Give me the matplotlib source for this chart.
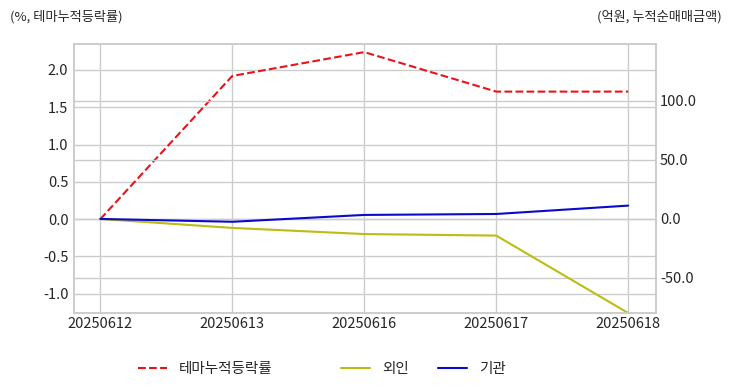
import matplotlib
matplotlib.use("Agg")
import matplotlib.pyplot as plt
import seaborn as sns

# data
dates = ["20250612", "20250613", "20250616", "20250617", "20250618"]
theme_rate = [0.0, 1.92, 2.24, 1.71, 1.71]      # %, 테마누적등락률
foreign = [0.0, -7.6, -12.8, -14.1, -79.7]      # 억원, 외인
institution = [0.0, -2.4, 3.4, 4.2, 11.3]       # 억원, 기관

sns.set_style("whitegrid")
plt.rcParams["font.family"] = ["Noto Sans CJK KR", "DejaVu Sans"]
plt.rcParams["axes.unicode_minus"] = False

fig = plt.figure(figsize=(7.32, 3.92), dpi=100)
ax = fig.add_axes([0.101, 0.2015, 0.795, 0.6865])
ax2 = ax.twinx()

x = list(range(len(dates)))
l1, = ax.plot(x, theme_rate, color="#e8141a", linestyle="--", linewidth=1.5, label="테마누적등락률")
l2, = ax2.plot(x, foreign, color="#bcbc14", linewidth=1.5, label="외인")
l3, = ax2.plot(x, institution, color="#0a0acd", linewidth=1.5, label="기관")

ax.set_xticks(x)
ax.set_xticklabels(dates)
ax.set_xlim(-0.2, 4.21)

# align zeros of both axes
ax.set_ylim(-1.26, 2.35)
ax2.set_ylim(-79.7, 148.3)
ax.set_yticks([-1.0, -0.5, 0.0, 0.5, 1.0, 1.5, 2.0])
ax2.set_yticks([-50, 0, 50, 100])
ax2.set_yticklabels(["%.1f" % v for v in [-50, 0, 50, 100]])

for a in (ax, ax2):
    a.tick_params(labelsize=10.5, colors="#262626", length=0, pad=4)
    for s in a.spines.values():
        s.set_color("#cccccc")
        s.set_linewidth(1.2)
    a.grid(True, color="#cccccc", linewidth=1.0)
ax.tick_params(axis="x", pad=3)
ax2.tick_params(axis="y", pad=3)

fig.text(10 / 732, 1 - 17 / 392, "(%, 테마누적등락률)", fontsize=9.5, color="#262626",
         ha="left", va="center")
fig.text(722 / 732, 1 - 17 / 392, "(억원, 누적순매매금액)", fontsize=9.5, color="#262626",
         ha="right", va="center")

fig.legend(handles=[l1], loc="center left", bbox_to_anchor=(125 / 732, 1 - 369 / 392),
           frameon=False, fontsize=10.5, handlelength=2.0, handletextpad=0.8)
fig.legend(handles=[l2, l3], loc="center left", bbox_to_anchor=(328 / 732, 1 - 369 / 392),
           frameon=False, fontsize=10.5, ncol=2, handlelength=2.0, columnspacing=2.0)

fig.savefig("out.png", dpi=100)
